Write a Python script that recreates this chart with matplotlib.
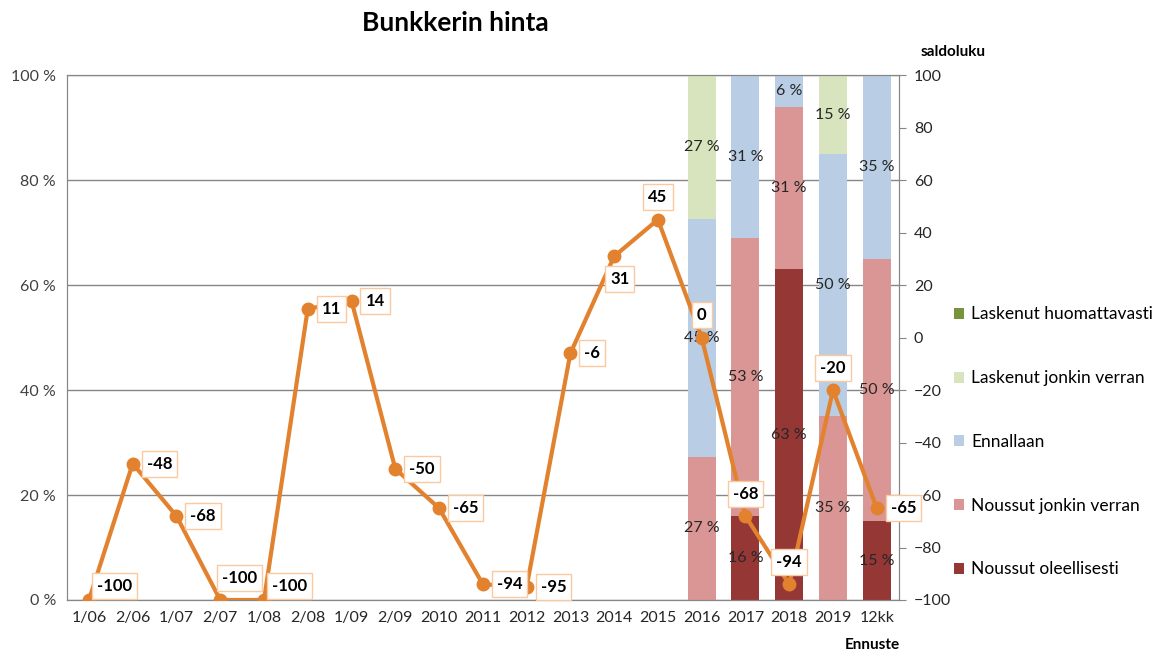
import matplotlib.pyplot as plt
import numpy as np

plt.rcParams['font.family'] = ['Lato', 'DejaVu Sans']

categories = ['1/06', '2/06', '1/07', '2/07', '1/08', '2/08', '1/09', '2/09', '2010', '2011',
              '2012', '2013', '2014', '2015', '2016', '2017', '2018', '2019', '12kk']
saldo = [-100, -48, -68, -100, -100, 11, 14, -50, -65, -94, -95, -6, 31, 45, 0, -68, -94, -20, -65]
label_pos = ['b', 'r', 'r', 'ur', 'b', 'r', 'r', 'r', 'r', 'r', 'r', 'r', 'd', 'u', 'u', 'u', 'u', 'u', 'r']

bar_years = ['2016', '2017', '2018', '2019', '12kk']
series = {
    'Noussut oleellisesti': [0, 16, 63, 0, 15],
    'Noussut jonkin verran': [27.3, 53, 31, 35, 50],
    'Ennallaan': [45.4, 31, 6, 50, 35],
    'Laskenut jonkin verran': [27.3, 0, 0, 15, 0],
    'Laskenut huomattavasti': [0, 0, 0, 0, 0],
}
colors = {
    'Noussut oleellisesti': '#953735',
    'Noussut jonkin verran': '#D99694',
    'Ennallaan': '#B9CDE5',
    'Laskenut jonkin verran': '#D7E4BD',
    'Laskenut huomattavasti': '#77933C',
}

fig = plt.figure(figsize=(11.68, 6.55), dpi=100)
ax = fig.add_axes([0.0574, 0.084, 0.712, 0.801])
ax2 = ax.twinx()

x = np.arange(len(categories))
bx = np.array([categories.index(c) for c in bar_years])
bottom = np.zeros(len(bar_years))
for name, vals in series.items():
    vals = np.array(vals, dtype=float)
    ax.bar(bx, vals, 0.64, bottom=bottom, color=colors[name], label=name, zorder=2)
    for xi, b, v in zip(bx, bottom, vals):
        if v > 0:
            ax.text(xi, b + v / 2, f'{v:.0f} %', ha='center', va='center', fontsize=11.5,
                    color='#262626', zorder=3)
    bottom += vals

ax.set_xlim(-0.5, len(categories) - 0.5)
ax.set_ylim(0, 100)
ax.set_yticks(range(0, 101, 20))
ax.set_yticklabels([f'{v} %' for v in range(0, 101, 20)], fontsize=11.5, color='#404040')
ax.set_xticks(x)
ax.set_xticklabels(categories, fontsize=11.5, color='#262626')
ax.tick_params(axis='both', length=0, pad=8)
ax.grid(axis='y', color='#868686', linewidth=1, zorder=0)
ax.set_axisbelow(True)
for s in ['left', 'bottom', 'right', 'top']:
    ax.spines[s].set_color('#868686')
    ax2.spines[s].set_color('#868686')

ax2.plot(x, saldo, color='#E2822F', linewidth=3, marker='o', markersize=9, zorder=5)
ax2.set_ylim(-100, 100)
ax2.set_yticks(range(-100, 101, 20))
ax2.tick_params(axis='y', length=5, color='#868686', labelsize=11.5, labelcolor='#262626', pad=6)
ax2.set_zorder(ax.get_zorder() + 1)
ax2.patch.set_visible(False)

offsets = {'r': ((10, 0), 'left'), 'b': ((6, 10), 'left'), 'ur': ((14, 16), 'center'),
           'u': ((0, 16), 'center'), 'd': ((4, -16), 'center')}
for xi, v, p in zip(x, saldo, label_pos):
    off, ha = offsets[p]
    ax2.annotate(str(v), (xi, v), xytext=off, textcoords='offset points', ha=ha, va='center',
                 fontsize=12, fontweight='bold', color='black', zorder=6,
                 bbox=dict(boxstyle='square,pad=0.3', fc='white', ec='#FAC9A0', lw=1))

handles, labels = ax.get_legend_handles_labels()
fig.legend(handles[::-1], labels[::-1], loc='upper left', bbox_to_anchor=(0.803, 0.556),
           frameon=False, fontsize=12.5, handlelength=0.6, handleheight=0.6,
           labelspacing=2.75, handletextpad=0.4)

fig.text(0.39, 0.965, 'Bunkkerin hinta', ha='center', va='center', fontsize=19, fontweight='bold')
fig.text(0.788, 0.92, 'saldoluku', ha='left', va='center', fontsize=11, fontweight='bold')
fig.text(0.747, 0.015, 'Ennuste', ha='center', va='center', fontsize=11, fontweight='bold')

fig.savefig('out.png', dpi=100)
